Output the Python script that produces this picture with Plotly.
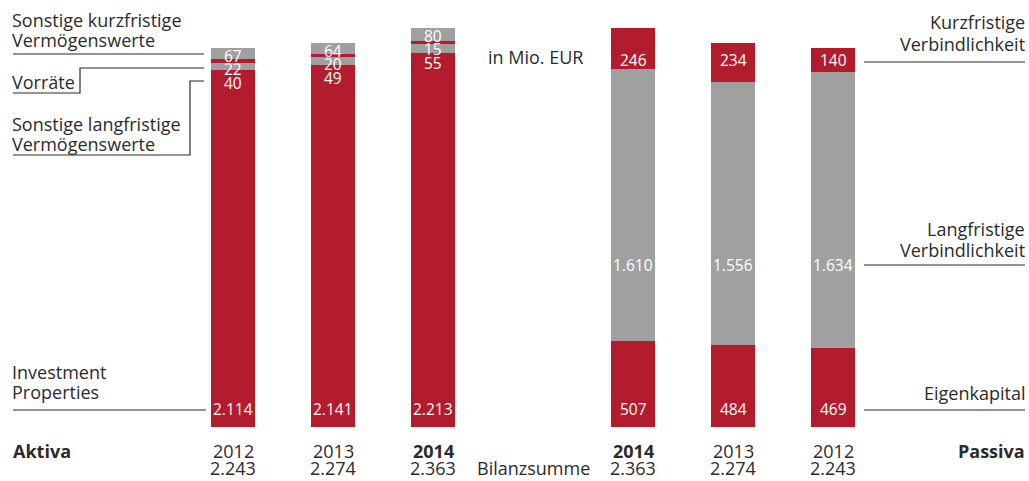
import plotly.graph_objects as go

# ---- data (Mio. EUR) ----
aktiva_years = ["2012", "2013", "2014"]
investment_properties = [2114, 2141, 2213]
sonstige_langfristige = [40, 49, 55]
vorraete = [22, 20, 15]
sonstige_kurzfristige = [67, 64, 80]

passiva_years = ["2014", "2013", "2012"]
eigenkapital = [507, 484, 469]
langfristige_verb = [1610, 1556, 1634]
kurzfristige_verb = [246, 234, 140]

W, H = 1029, 481
RED = "#B21C2C"
GRAY = "#A0A0A0"
TXT = "#2b2b2b"
FONT = "Open Sans"
FS = 18      # category / axis text
LBL = 15.5   # value labels


def fmt(v):
    return f"{v:,}".replace(",", ".")


def px(x):
    return x / W


def py(y):
    return 1 - y / H


ax_x = list(range(len(aktiva_years)))
pa_x = [len(aktiva_years) + 1 + i for i in range(len(passiva_years))]
aktiva_tot = [a + b + c + d for a, b, c, d in zip(investment_properties, sonstige_langfristige, vorraete, sonstige_kurzfristige)]
passiva_tot = [a + b + c for a, b, c in zip(eigenkapital, langfristige_verb, kurzfristige_verb)]

fig = go.Figure()
bw = 0.435
for vals, col, name, xs in [
    (investment_properties, RED, "Investment Properties", ax_x),
    (sonstige_langfristige, GRAY, "Sonstige langfristige Vermögenswerte", ax_x),
    (vorraete, RED, "Vorräte", ax_x),
    (sonstige_kurzfristige, GRAY, "Sonstige kurzfristige Vermögenswerte", ax_x),
    (eigenkapital, RED, "Eigenkapital", pa_x),
    (langfristige_verb, GRAY, "Langfristige Verbindlichkeit", pa_x),
    (kurzfristige_verb, RED, "Kurzfristige Verbindlichkeit", pa_x),
]:
    fig.add_trace(go.Bar(x=xs, y=vals, name=name, marker=dict(color=col, line=dict(width=0)),
                         width=bw, showlegend=False, hoverinfo="name+y"))

ann = []


def txt(x, y, s, size=FS, anchor="left", bold=False, color=TXT, xref="paper", yref="paper",
        yshift=0, yanchor="middle"):
    ann.append(dict(x=x, y=y, xref=xref, yref=yref, text=(f"<b>{s}</b>" if bold else s), showarrow=False,
                    xanchor=anchor, yanchor=yanchor, yshift=yshift, borderpad=0,
                    font=dict(family=FONT, size=size, color=color)))


# value labels inside bars
for i, x in enumerate(ax_x):
    txt(x, py(409), fmt(investment_properties[i]), LBL, "center", color="white", xref="x")
    txt(x, aktiva_tot[i], fmt(sonstige_kurzfristige[i]), LBL, "center", color="white", xref="x", yref="y", yshift=-8)
    txt(x, aktiva_tot[i], fmt(vorraete[i]), LBL, "center", color="white", xref="x", yref="y", yshift=-21.5)
    txt(x, aktiva_tot[i], fmt(sonstige_langfristige[i]), LBL, "center", color="white", xref="x", yref="y", yshift=-35)
for i, x in enumerate(pa_x):
    txt(x, py(60), fmt(kurzfristige_verb[i]), LBL, "center", color="white", xref="x")
    txt(x, py(265), fmt(langfristige_verb[i]), LBL, "center", color="white", xref="x")
    txt(x, py(409), fmt(eigenkapital[i]), LBL, "center", color="white", xref="x")

# axis-like labels
YR = 451
for i, x in enumerate(ax_x):
    txt(x, py(YR), aktiva_years[i], FS, "center", bold=(aktiva_years[i] == "2014"), xref="x")
    txt(x, 0, fmt(aktiva_tot[i]), FS, "center", xref="x", yanchor="bottom")
for i, x in enumerate(pa_x):
    txt(x, py(YR), passiva_years[i], FS, "center", bold=(passiva_years[i] == "2014"), xref="x")
    txt(x, 0, fmt(passiva_tot[i]), FS, "center", xref="x", yanchor="bottom")

txt(px(12), py(YR), "Aktiva", FS, "left", bold=True)
txt(px(1026), py(YR), "Passiva", FS, "right", bold=True)
txt(px(591), 0, "Bilanzsumme", FS, "right", yanchor="bottom")
txt(px(535), py(57), "in Mio. EUR", FS, "center")

# left category labels
txt(px(11), py(20), "Sonstige kurzfristige", FS)
txt(px(11), py(40), "Vermögenswerte", FS)
txt(px(11), py(82), "Vorräte", FS)
txt(px(11), py(124), "Sonstige langfristige", FS)
txt(px(11), py(144), "Vermögenswerte", FS)
txt(px(11), py(372), "Investment", FS)
txt(px(11), py(392), "Properties", FS)

# right category labels
txt(px(1026), py(22), "Kurzfristige", FS, "right")
txt(px(1026), py(44), "Verbindlichkeit", FS, "right")
txt(px(1026), py(229), "Langfristige", FS, "right")
txt(px(1026), py(250), "Verbindlichkeit", FS, "right")
txt(px(1026), py(393), "Eigenkapital", FS, "right")

shapes = []


def poly(points):
    d = "M " + " L ".join(f"{px(a):.5f},{py(b):.5f}" for a, b in points)
    shapes.append(dict(type="path", path=d, xref="paper", yref="paper",
                       line=dict(color=TXT, width=1.2), fillcolor="rgba(0,0,0,0)"))


poly([(13, 54), (204, 54)])
poly([(204, 68), (80, 68), (80, 93), (13, 93)])
poly([(204, 81), (190, 81), (190, 155), (13, 155)])
poly([(13, 410), (206, 410)])
poly([(864, 62), (1025, 62)])
poly([(864, 265), (1025, 265)])
poly([(864, 410), (1025, 410)])

k = 0.169  # px per Mio. EUR
base = 427
x0 = 233
fig.update_layout(
    width=W, height=H, barmode="stack", bargap=0,
    margin=dict(l=0, r=0, t=0, b=0),
    paper_bgcolor="white", plot_bgcolor="white",
    xaxis=dict(range=[-x0 / 100, (W - x0) / 100], visible=False, fixedrange=True),
    yaxis=dict(range=[-(H - base) / k, base / k], visible=False, fixedrange=True),
    annotations=ann, shapes=shapes,
    font=dict(family=FONT, color=TXT),
)
fig.write_html("out.html", config={"displayModeBar": False},
               post_script="document.body.style.margin='0';document.body.style.overflow='hidden';")
